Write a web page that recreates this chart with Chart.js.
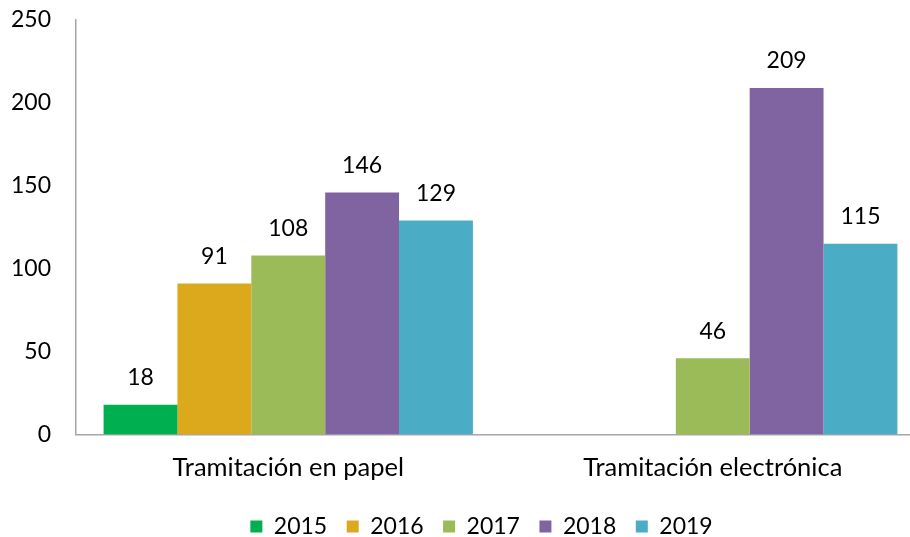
<!DOCTYPE html>
<html>
<head>
<meta charset="utf-8">
<script src="https://cdn.jsdelivr.net/npm/chart.js@4"></script>
<style>
  body { margin: 0; overflow: hidden; background: #fff; }
  #wrap { width: 910px; height: 537px; overflow: hidden; }
</style>
</head>
<body>
<div id="wrap"><canvas id="c" width="940" height="537"></canvas></div>
<script>
var categories = ['Tramitación en papel', 'Tramitación electrónica'];
var years = ['2015', '2016', '2017', '2018', '2019'];
var values2015 = [18, null];
var values2016 = [91, null];
var values2017 = [108, 46];
var values2018 = [146, 209];
var values2019 = [129, 115];
var yTicks = [0, 50, 100, 150, 200, 250];

var colors = ['#00B050', '#DBA91B', '#9BBB59', '#8064A2', '#4BACC6'];
var allValues = [values2015, values2016, values2017, values2018, values2019];

var FONT = 'Lato, "Open Sans", sans-serif';

var datasets = years.map(function(y, i) {
    return {
        label: y,
        data: allValues[i],
        backgroundColor: colors[i],
        borderWidth: 0,
        categoryPercentage: 0.87,
        barPercentage: 1.0
    };
});

// numbers written above each bar
var valueLabels = {
    id: 'valueLabels',
    afterDatasetsDraw: function(chart) {
        var ctx = chart.ctx;
        ctx.save();
        ctx.font = '23px ' + FONT;
        ctx.fillStyle = '#000';
        ctx.textAlign = 'center';
        ctx.textBaseline = 'middle';
        chart.data.datasets.forEach(function(ds, i) {
            chart.getDatasetMeta(i).data.forEach(function(bar, j) {
                if (ds.data[j] == null) return;
                ctx.fillText(ds.data[j], bar.x, bar.y - 27);
            });
        });
        ctx.restore();
    }
};

// nudge the legend a little right and down
var legendShift = {
    id: 'legendShift',
    afterLayout: function(chart) {
        var lg = chart.legend;
        lg.left += 13;
        lg.right += 13;
        lg.top += 11;
        lg.bottom += 11;
    }
};

new Chart(document.getElementById('c').getContext('2d'), {
    type: 'bar',
    data: { labels: categories, datasets: datasets },
    options: {
        responsive: false,
        animation: false,
        layout: { padding: { left: 12, right: 15, top: 20, bottom: 0 } },
        plugins: {
            tooltip: { enabled: false },
            legend: {
                position: 'bottom',
                labels: {
                    font: { family: FONT, size: 23 },
                    color: '#000',
                    boxWidth: 12,
                    boxHeight: 12,
                    padding: 19.5
                }
            }
        },
        scales: {
            x: {
                afterFit: function(scale) { scale.height = 50; },
                grid: { display: false, drawTicks: false },
                border: { color: '#A6A6A6', width: 1.5 },
                ticks: { font: { family: FONT, size: 25.5 }, color: '#000', padding: 18 }
            },
            y: {
                min: 0,
                max: 250,
                afterFit: function(scale) {
                    scale.width = 64;
                    scale.paddingTop = 0;
                    scale.paddingBottom = 0;
                },
                afterBuildTicks: function(scale) {
                    scale.ticks = yTicks.map(function(v) { return { value: v }; });
                },
                grid: { display: false, drawTicks: false },
                border: { color: '#A6A6A6', width: 1.5 },
                ticks: { font: { family: FONT, size: 23 }, color: '#000', padding: 25 }
            }
        }
    },
    plugins: [valueLabels, legendShift]
});
</script>
</body>
</html>
